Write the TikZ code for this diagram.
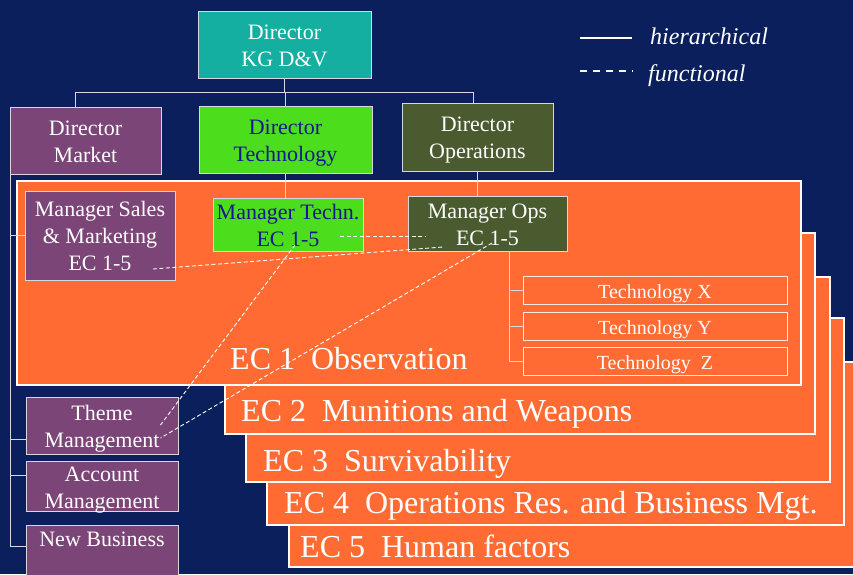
\documentclass[tikz,border=0pt]{standalone}
\usepackage{fontspec}
\setmainfont{Liberation Serif}
\usetikzlibrary{positioning,calc}

\definecolor{navybg}{RGB}{10,31,92}
\definecolor{kgteal}{RGB}{20,175,160}
\definecolor{mktpurple}{RGB}{123,69,119}
\definecolor{techgreen}{RGB}{76,221,28}
\definecolor{techblue}{RGB}{22,22,145}
\definecolor{opsolive}{RGB}{74,91,48}
\definecolor{ecorange}{RGB}{255,107,51}
\definecolor{boxline}{RGB}{215,215,225}

\begin{document}
\begin{tikzpicture}[x=1pt,y=-1pt,
    twoline/.style={text height=48pt,text depth=5pt},
    threeline/.style={text height=75pt,text depth=5pt},
  ]
  \clip (0,0) rectangle (853,574);
  \fill[navybg] (0,0) rectangle (853,574);
  % expert centres, back one first
  \begin{scope}[
    every node/.style={
      anchor=north west,
      draw=white,
      fill=ecorange,
      line width=2.5pt,
      inner sep=0pt,
      outer sep=0pt,
    },
    ]
    \node[minimum width=581pt,minimum height=205pt] (ec5) at (289,362) {};
    \node[minimum width=577pt,minimum height=207pt] (ec4) at (267,318) {};
    \node[minimum width=584pt,minimum height=205pt] (ec3) at (246,277) {};
    \node[minimum width=590pt,minimum height=201pt] (ec2) at (225,233) {};
    \node[minimum width=784pt,minimum height=204pt] (ec1) at (17,181) {};
  \end{scope}
  \begin{scope}[
    every node/.style={
      anchor=base west,
      inner sep=0pt,
      text=white,
      font=\fontsize{32}{38}\selectfont,
    },
    ]
    \node (ec1name) at ($(ec1.south west)+(213,-16)$) {EC 1\ \ Observation};
    \node (ec2name) at ($(ec2.south west)+(16,-13)$)  {EC 2\ \ Munitions and Weapons};
    \node (ec3name) at ($(ec3.south west)+(17,-11)$)  {EC 3\ \ Survivability};
    \node (ec4name) at ($(ec4.south west)+(17,-12)$)  {EC 4\ \ Operations Res. and Business Mgt.};
    \node (ec5name) at ($(ec5.south west)+(11,-10)$)  {EC 5\ \ Human factors};
  \end{scope}
  % directors and managers
  \begin{scope}[
    every node/.style={
      draw=boxline,
      line width=0.8pt,
      inner sep=0pt,
      outer sep=0pt,
      align=center,
      text=white,
      font=\fontsize{22}{27}\selectfont,
    },
    ]
    \node[twoline,fill=kgteal,minimum width=173pt,minimum height=67pt]
      (kgdv) at (284.5,44.5) {Director\\KG D\&V};
    \node[twoline,fill=mktpurple,minimum width=151pt,minimum height=67pt]
      (dirmarket) at (85.5,140.5) {Director\\Market};
    \node[twoline,fill=techgreen,text=techblue,minimum width=173pt,minimum height=67pt]
      (dirtech) at (285.5,139.5) {Director\\Technology};
    \node[twoline,fill=opsolive,minimum width=151pt,minimum height=68pt]
      (dirops) at (477.5,137) {Director\\Operations};
    \node[threeline,fill=mktpurple,minimum width=150pt,minimum height=89pt]
      (salesmgr) at (100,235.5) {Manager Sales\\\& Marketing\\EC 1-5};
    \node[twoline,fill=techgreen,text=techblue,minimum width=150pt,minimum height=53pt]
      (techmgr) at (288,224.5) {Manager Techn.\\EC 1-5};
    \node[twoline,fill=opsolive,minimum width=159pt,minimum height=55pt]
      (opsmgr) at (487.5,223.5) {Manager Ops\\EC 1-5};
    \node[twoline,fill=mktpurple,minimum width=152pt,minimum height=57pt]
      (theme) at (102,425.5) {Theme\\Management};
    \node[twoline,text height=47pt,text depth=3pt,fill=mktpurple,minimum width=152pt,
      minimum height=50pt,below=7pt of theme]
      (account) {Account\\Management};
    \node[fill=mktpurple,minimum width=152pt,text height=21pt,text depth=54pt,below=14pt of account]
      (newbiz) {New Business};
  \end{scope}
  \begin{scope}[
    every node/.style={
      draw=white!85!ecorange,
      line width=0.8pt,
      fill=ecorange,
      text=white,
      inner sep=0pt,
      outer sep=0pt,
      minimum width=264pt,
      minimum height=28pt,
      font=\fontsize{20}{24}\selectfont,
      text height=20pt,
      text depth=4pt,
    },
    ]
    \node                     (techx) at (655,290) {Technology X};
    \node[below=8pt of techx] (techy)              {Technology Y};
    \node[below=7pt of techy] (techz)              {Technology\ \ Z};
  \end{scope}
  % hierarchical lines
  \begin{scope}[
    every path/.style={draw=boxline,line width=0.8pt},
    ]
    \coordinate (bus) at (0,92);
    \coordinate (opsfoot) at ($(opsmgr.south)+(21.5,0)$);
    \path (kgdv.south) -- (kgdv.south |- bus);
    \path ([xshift=-10pt]dirmarket.north) |- ([xshift=-4pt]dirops.north |- bus)
      -- ([xshift=-4pt]dirops.north);
    \path (dirtech.north) -- (dirtech.north |- bus);
    \path (dirtech.south) -- (dirtech.south |- techmgr.north);
    \path (dirops.south) -- (dirops.south |- opsmgr.north);
    \path (dirmarket.south west) |- (salesmgr.west);
    \path (dirmarket.south west) |- ([yshift=-13.5pt]theme.west);
    \path (dirmarket.south west) |- ([yshift=11pt]account.west);
    \path (dirmarket.south west) |- (newbiz.base west);
    \path (opsfoot) |- (techx.west);
    \path (opsfoot) |- (techy.west);
    \path (opsfoot) |- (techz.west);
  \end{scope}
  % functional lines
  \begin{scope}[
    every path/.style={draw=white,line width=0.9pt,dash pattern=on 4pt off 2.5pt},
    ]
    \path ($(techmgr.center)+(52,11.5)$)  -- ($(opsmgr.center)+(-62.5,12.5)$);
    \path ($(salesmgr.center)+(53,33.5)$) -- ($(opsmgr.center)+(-44.5,23.5)$);
    \path ($(techmgr.center)+(7,20.5)$)   -- ($(theme.center)+(58.5,-0.5)$);
    \path ($(opsmgr.center)+(4.5,19.5)$)  -- ($(theme.center)+(58.5,12.5)$);
  \end{scope}
  % legend
  \begin{scope}[
    every node/.style={anchor=base west,inner sep=0pt,text=white,
      font=\fontsize{24}{29}\selectfont\itshape},
    ]
    \node (hierlabel) at (650,44) {hierarchical};
    \node (funclabel) at (648,81) {functional};
  \end{scope}
  \coordinate (hierstart) at (580,38);
  \coordinate (hierend)   at (632,38);
  \coordinate (funcstart) at (580,71);
  \coordinate (funcend)   at (633,71);
  \draw[white,line width=1.6pt] (hierstart) -- (hierend);
  \draw[white,line width=1.6pt,dash pattern=on 7pt off 6pt] (funcstart) -- (funcend);
\end{tikzpicture}
\end{document}
